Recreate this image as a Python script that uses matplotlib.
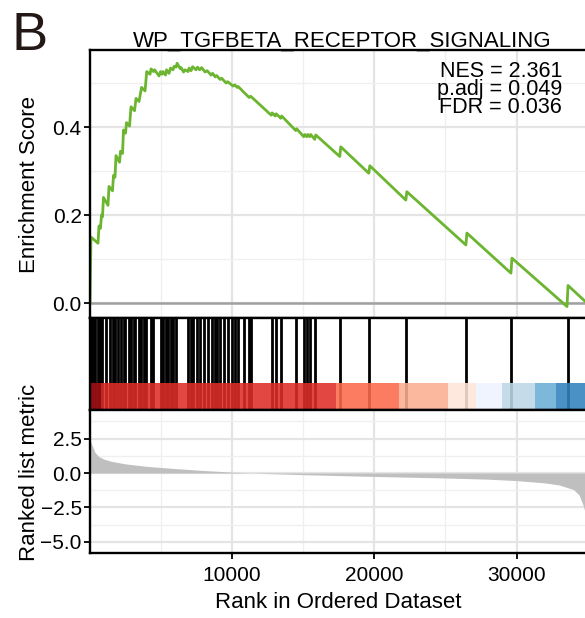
import matplotlib
matplotlib.use("agg")
import matplotlib.pyplot as plt
from matplotlib.ticker import MultipleLocator

plt.rcParams["font.family"] = ["Liberation Sans", "DejaVu Sans"]

# ---- data ----
gene_set = "WP_TGFBETA_RECEPTOR_SIGNALING"
panel_tag = "B"
stat_lines = ["NES = 2.361", "p.adj = 0.049", "FDR = 0.036"]
n_genes = 34950

# running enrichment score (vertices of the green curve)
es_rank = [0, 70, 563, 634, 739, 810, 880, 950, 1267, 1338, 1584, 1654, 1760,
           1830, 2077, 2147, 2288, 2358, 2499, 2570, 2781, 2886, 3133, 3238,
           3450, 3626, 3872, 3992, 4224, 4294, 4470, 4541, 4858, 4963, 5069,
           5139, 5315, 5386, 5562, 5667, 5843, 5914, 6054, 6125, 6336, 6406,
           6582, 6688, 6899, 6970, 7110, 7216, 7462, 7568, 7709, 7850, 8096,
           8237, 8518, 8624, 8800, 8906, 9152, 9258, 9574, 9680, 10067, 10173,
           10349, 10419, 11194, 11299, 12742, 12813, 13024, 13094, 13411,
           13482, 14467, 14538, 15030, 15101, 15242, 15312, 15453, 15523,
           15805, 15875, 17565, 17635, 19606, 19677, 22211, 22282, 26435,
           26506, 29603, 29674, 33546, 33616, 34950]
es_score = [0.000, 0.150, 0.136, 0.175, 0.170, 0.200, 0.196, 0.240, 0.222,
            0.265, 0.255, 0.290, 0.286, 0.335, 0.320, 0.345, 0.340, 0.393,
            0.386, 0.410, 0.402, 0.446, 0.437, 0.465, 0.458, 0.490, 0.482,
            0.526, 0.520, 0.532, 0.526, 0.530, 0.516, 0.526, 0.520, 0.526,
            0.518, 0.530, 0.522, 0.534, 0.530, 0.538, 0.536, 0.545, 0.533,
            0.535, 0.525, 0.530, 0.526, 0.534, 0.528, 0.537, 0.530, 0.536,
            0.530, 0.535, 0.525, 0.528, 0.518, 0.522, 0.514, 0.517, 0.508,
            0.511, 0.500, 0.503, 0.493, 0.496, 0.490, 0.492, 0.467, 0.470,
            0.427, 0.432, 0.425, 0.430, 0.420, 0.425, 0.392, 0.396, 0.378,
            0.383, 0.378, 0.383, 0.378, 0.383, 0.372, 0.382, 0.333, 0.355,
            0.295, 0.312, 0.234, 0.253, 0.132, 0.159, 0.068, 0.102, -0.008,
            0.040, 0.000]

# positions of gene-set members in the ranked list
hit_rank = [70, 176, 282, 387, 598, 739, 880, 1162, 1443, 1619, 1760, 2006,
            2182, 2358, 2464, 2710, 2886, 3062, 3168, 3414, 3590, 3766, 3942,
            4259, 4435, 4963, 5104, 5315, 5491, 5667, 5843, 6054, 6899, 7075,
            7251, 7533, 7709, 8026, 8272, 8589, 8765, 8941, 9117, 9398, 9680,
            9997, 10173, 10384, 10842, 11158, 11299, 12778, 13059, 13446,
            14502, 15066, 15277, 15488, 15840, 17600, 19642, 22246, 26470,
            29638, 33581]

# ranked list metric (outline of the grey area)
metric_rank = [0, 150, 350, 600, 1000, 1500, 2500, 4000, 6000, 8000, 10000,
               12000, 15000, 20000, 25000, 28000, 30000, 32000, 33000, 34000,
               34400, 34700, 34950]
metric_value = [2.4, 2.0, 1.5, 1.2, 1.0, 0.85, 0.66, 0.48, 0.32, 0.18, 0.06,
                -0.03, -0.12, -0.25, -0.36, -0.45, -0.55, -0.72, -0.87, -1.2,
                -1.6, -2.4, -3.4]

# colour bins under the hit marks
bin_edges = [0, 750, 17300, 21750, 25200, 27170, 29000, 31260, 32800, 34950]
bin_colors = ["#A50F15", "#DE2D26", "#FB6A4A", "#FCAE91", "#FEE5D9",
              "#EFF3FF", "#BDD7E7", "#6BAED6", "#3182BD"]

# ---- figure ----
fig = plt.figure(figsize=(5.85, 6.18), dpi=100)
left, width = 0.1538, 0.8496
ax1 = fig.add_axes([left, 0.4854, width, 0.4337])
ax2 = fig.add_axes([left, 0.3366, width, 0.1489])
ax3 = fig.add_axes([left, 0.1052, width, 0.2314])

major_grid = dict(color="#e4e4e4", lw=1.6)
minor_grid = dict(color="#efefef", lw=0.9)

for ax in (ax1, ax2, ax3):
    ax.set_xlim(0, n_genes)
    for sp in ax.spines.values():
        sp.set_linewidth(1.7)
        sp.set_color("black")
        sp.set_zorder(5)
    ax.xaxis.set_major_locator(MultipleLocator(10000))
    ax.xaxis.set_minor_locator(MultipleLocator(5000))
    ax.set_axisbelow(True)

# enrichment score panel
ax1.plot(es_rank, es_score, color="#6cb530", lw=2.0, zorder=3)
ax1.axhline(0, color="#a0a0a0", lw=1.8, zorder=2)
ax1.set_ylim(-0.034, 0.575)
ax1.yaxis.set_major_locator(MultipleLocator(0.2))
ax1.yaxis.set_minor_locator(MultipleLocator(0.1))
ax1.grid(which="major", **major_grid)
ax1.grid(which="minor", **minor_grid)
ax1.tick_params(axis="x", which="both", length=0, labelbottom=False)
ax1.tick_params(axis="y", which="major", length=4, width=1.3, labelsize=15,
                pad=2)
ax1.tick_params(axis="y", which="minor", length=0)
ax1.yaxis.set_major_formatter(plt.FuncFormatter(lambda v, p: f"{v:.1f}"))

ax1.text(0.95, 0.765, "\n".join(stat_lines), transform=ax1.transAxes,
         ha="right", va="baseline", multialignment="right", fontsize=15.5,
         linespacing=0.82)

# hit marks + colour bar
ax2.vlines(hit_rank, 0, 1, color="black", lw=2.0)
for i, c in enumerate(bin_colors):
    ax2.axvspan(bin_edges[i], bin_edges[i + 1], ymin=0, ymax=0.29,
                color=c, alpha=0.88, lw=0, zorder=3)
ax2.set_ylim(0, 1)
ax2.set_yticks([])
ax2.tick_params(axis="x", which="both", length=0, labelbottom=False)

# ranked list metric panel
ax3.fill_between(metric_rank, metric_value, 0, color="#bfbfbf", lw=0,
                 zorder=3)
ax3.set_ylim(-5.8, 4.57)
ax3.yaxis.set_major_locator(MultipleLocator(2.5))
ax3.yaxis.set_minor_locator(MultipleLocator(1.25))
ax3.grid(which="major", **major_grid)
ax3.grid(which="minor", **minor_grid)
ax3.set_xticks([10000, 20000, 30000])
ax3.tick_params(axis="x", which="major", length=4, width=1.3, labelsize=15,
                pad=5.5)
ax3.tick_params(axis="x", which="minor", length=0)
ax3.tick_params(axis="y", which="major", length=4, width=1.3, labelsize=15,
                pad=2)
ax3.tick_params(axis="y", which="minor", length=0)
ax3.yaxis.set_major_formatter(
    plt.FuncFormatter(lambda v, p: f"{v:.1f}".replace("-", "\u2212")))

# labels
fig.text(0.5846, 0.924, gene_set, ha="center", va="baseline", fontsize=16)
fig.text(0.019, 0.919, panel_tag, ha="left", va="baseline", fontsize=39,
         color="#231815")
fig.text(0.0496, 0.702, "Enrichment Score", rotation=90, ha="center",
         va="center", fontsize=16)
fig.text(0.0496, 0.236, "Ranked list metric", rotation=90, ha="center",
         va="center", fontsize=16)
fig.text(0.578, 0.0162, "Rank in Ordered Dataset", ha="center",
         va="baseline", fontsize=16)

fig.savefig("out.png", dpi=100)
